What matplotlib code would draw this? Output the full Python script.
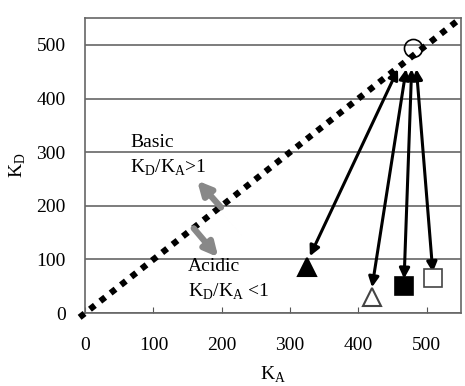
import matplotlib.pyplot as plt

plt.rcParams['font.family'] = ['Liberation Serif', 'DejaVu Serif']

# markers: (K_A, K_D)
origin_ka, origin_kd = 480, 495
marker_ka = [325, 420, 467, 510]
marker_kd = [85, 30, 50, 65]
marker_style = ['^', '^', 's', 's']
marker_fill = ['black', 'white', 'black', 'white']

# black double arrows: top end and bottom end
arrow_top_ka = [458, 470, 478, 485]
arrow_top_kd = [455, 455, 455, 455]
arrow_bot_ka = [329, 420, 467, 509]
arrow_bot_kd = [106, 48, 64, 76]

# grey arrows off the diagonal
grey_start = [(199, 197), (159, 158)]
grey_end = [(164, 247), (195, 104)]

ticks = [0, 100, 200, 300, 400, 500]

fig = plt.figure(figsize=(4.65, 3.86), dpi=100)
ax = fig.add_axes([0.183, 0.189, 0.808, 0.764])

ax.set_xlim(0, 550)
ax.set_ylim(0, 550)
ax.set_xticks(ticks)
ax.set_yticks(ticks)
ax.tick_params(axis='x', direction='in', length=4, labelsize=14, pad=17, color='#555555')
ax.tick_params(axis='y', direction='out', length=0, labelsize=14, pad=14)
for s in ax.spines.values():
    s.set_color('#666666')
    s.set_linewidth(1.2)
ax.set_axisbelow(True)
ax.yaxis.grid(True, color='#666666', linewidth=1.2)

# diagonal K_D = K_A
ax.plot([-8, 550], [-8, 550], color='black', linestyle=(0, (1, 1.1)), linewidth=4.5,
        clip_on=False, zorder=3)

for (sx, sy), (ex, ey) in zip(grey_start, grey_end):
    ax.annotate('', xy=(ex, ey), xytext=(sx, sy),
                arrowprops=dict(arrowstyle='-|>', color='#888888', lw=4.5,
                                mutation_scale=20, shrinkA=0, shrinkB=0))

for tx, ty, bx, by in zip(arrow_top_ka, arrow_top_kd, arrow_bot_ka, arrow_bot_kd):
    ax.annotate('', xy=(bx, by), xytext=(tx, ty),
                arrowprops=dict(arrowstyle='<|-|>', color='black', lw=2.2,
                                mutation_scale=15, shrinkA=0, shrinkB=0), zorder=4)

ax.plot(origin_ka, origin_kd, 'o', markersize=13, markerfacecolor='none',
        markeredgecolor='black', markeredgewidth=1.2, zorder=5)
for x, y, m, f in zip(marker_ka, marker_kd, marker_style, marker_fill):
    ax.plot(x, y, m, markersize=12.5, markerfacecolor=f,
            markeredgecolor='black' if f == 'black' else '#444444',
            markeredgewidth=1.5 if m == '^' else 1.2, zorder=5)

ax.text(66, 318, 'Basic', fontsize=14, ha='left', va='center')
ax.text(66, 270, r'K$_\mathregular{D}$/K$_\mathregular{A}$>1', fontsize=14, ha='left', va='center')
ax.text(151, 87, 'Acidic', fontsize=14, ha='left', va='center')
ax.text(151, 39, r'K$_\mathregular{D}$/K$_\mathregular{A}$ <1', fontsize=14, ha='left', va='center')

ax.set_xlabel(r'K$_\mathregular{A}$', fontsize=14, labelpad=8)
ax.set_ylabel(r'K$_\mathregular{D}$', fontsize=14, labelpad=6)

fig.savefig('out.png', dpi=100)
